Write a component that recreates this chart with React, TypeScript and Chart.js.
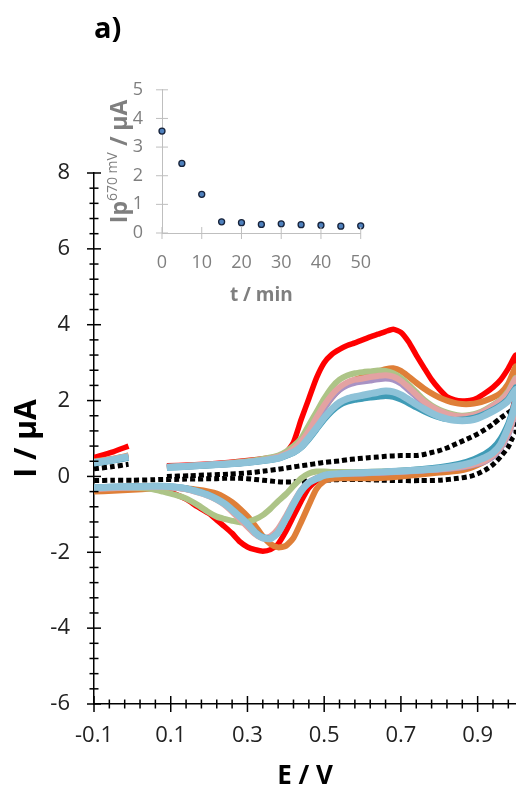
import React, { useEffect, useRef } from "react";
import { Chart, registerables } from "chart.js";

Chart.register(...registerables);

const FONT = '"Open Sans", "DejaVu Sans", sans-serif';

// ---- Potential grids (V) ----
const E_SHORT = [-0.1, -0.05, -0.01];
const E_FWD = [0.09, 0.15, 0.2, 0.25, 0.3, 0.35, 0.38, 0.4, 0.42, 0.44, 0.46, 0.48, 0.5, 0.52, 0.54, 0.56, 0.58, 0.6, 0.62, 0.64, 0.66, 0.68, 0.7, 0.72, 0.74, 0.76, 0.78, 0.8, 0.82, 0.84, 0.86, 0.88, 0.9, 0.92, 0.94, 0.96, 0.98, 1.0];
const E_REV = [1.0, 0.99, 0.98, 0.96, 0.94, 0.92, 0.9, 0.88, 0.85, 0.8, 0.75, 0.7, 0.65, 0.6, 0.55, 0.52, 0.5, 0.48, 0.46, 0.44, 0.42, 0.4, 0.38, 0.36, 0.34, 0.32, 0.3, 0.28, 0.26, 0.24, 0.22, 0.2, 0.17, 0.14, 0.11, 0.08, 0.05, 0.0, -0.05, -0.1];

// ---- Currents (µA) ----
const RED_SHORT = [0.5, 0.65, 0.8];
const RED_FWD = [0.28, 0.3, 0.33, 0.37, 0.42, 0.48, 0.52, 0.62, 0.9, 1.5, 2.05, 2.6, 3.0, 3.22, 3.35, 3.45, 3.52, 3.6, 3.68, 3.75, 3.82, 3.88, 3.8, 3.55, 3.2, 2.87, 2.55, 2.3, 2.1, 2.02, 1.99, 2.0, 2.07, 2.2, 2.35, 2.55, 2.85, 3.2];
const RED_REV = [2.3, 1.7, 1.35, 0.9, 0.65, 0.5, 0.4, 0.32, 0.25, 0.18, 0.15, 0.1, 0.08, 0.06, 0.03, 0.0, -0.03, -0.12, -0.3, -0.65, -1.05, -1.45, -1.78, -1.93, -1.97, -1.93, -1.86, -1.72, -1.5, -1.32, -1.15, -0.98, -0.8, -0.6, -0.46, -0.36, -0.3, -0.3, -0.33, -0.35];

const BLACK_SHORT = [0.2, 0.26, 0.32];
const BLACK_FWD = [0.0, 0.02, 0.04, 0.06, 0.09, 0.15, 0.19, 0.22, 0.25, 0.28, 0.31, 0.34, 0.37, 0.39, 0.41, 0.44, 0.46, 0.48, 0.5, 0.51, 0.53, 0.54, 0.55, 0.55, 0.55, 0.58, 0.63, 0.68, 0.75, 0.84, 0.93, 1.02, 1.12, 1.24, 1.38, 1.54, 1.68, 1.8];
const BLACK_REV = [1.15, 1.0, 0.78, 0.52, 0.31, 0.17, 0.07, 0.0, -0.05, -0.1, -0.11, -0.11, -0.1, -0.08, -0.08, -0.09, -0.1, -0.11, -0.12, -0.13, -0.14, -0.15, -0.14, -0.12, -0.1, -0.08, -0.06, -0.05, -0.05, -0.05, -0.06, -0.06, -0.07, -0.07, -0.08, -0.08, -0.09, -0.1, -0.1, -0.11];

const ORANGE_SHORT = [0.4, 0.47, 0.55];
const ORANGE_FWD = [0.25, 0.27, 0.3, 0.33, 0.37, 0.43, 0.49, 0.56, 0.68, 0.86, 1.15, 1.48, 1.8, 2.08, 2.3, 2.45, 2.55, 2.62, 2.7, 2.77, 2.83, 2.85, 2.78, 2.63, 2.47, 2.32, 2.19, 2.08, 2.0, 1.94, 1.91, 1.91, 1.94, 2.0, 2.08, 2.2, 2.45, 2.9];
const ORANGE_REV = [2.0, 1.6, 1.3, 0.85, 0.55, 0.4, 0.3, 0.22, 0.15, 0.1, 0.05, 0.0, -0.04, -0.05, -0.05, -0.06, -0.12, -0.33, -0.75, -1.2, -1.62, -1.83, -1.87, -1.78, -1.58, -1.3, -1.05, -0.85, -0.68, -0.55, -0.45, -0.4, -0.35, -0.32, -0.3, -0.3, -0.32, -0.35, -0.38, -0.4];

const GREEN_SHORT = [0.37, 0.45, 0.52];
const GREEN_FWD = [0.25, 0.28, 0.31, 0.35, 0.4, 0.48, 0.55, 0.65, 0.8, 1.0, 1.35, 1.7, 2.05, 2.35, 2.55, 2.66, 2.72, 2.75, 2.77, 2.79, 2.78, 2.72, 2.6, 2.42, 2.22, 2.02, 1.87, 1.76, 1.68, 1.63, 1.6, 1.62, 1.67, 1.76, 1.88, 2.02, 2.25, 2.6];
const GREEN_REV = [1.9, 1.45, 1.15, 0.8, 0.55, 0.42, 0.35, 0.3, 0.26, 0.2, 0.18, 0.15, 0.13, 0.12, 0.12, 0.12, 0.13, 0.13, 0.08, -0.05, -0.25, -0.47, -0.65, -0.85, -1.02, -1.13, -1.2, -1.21, -1.17, -1.12, -1.06, -0.95, -0.75, -0.58, -0.48, -0.4, -0.33, -0.3, -0.3, -0.3];

const PURPLE_SHORT = [0.35, 0.43, 0.5];
const PURPLE_FWD = [0.24, 0.27, 0.3, 0.33, 0.37, 0.44, 0.5, 0.58, 0.7, 0.88, 1.15, 1.48, 1.8, 2.08, 2.28, 2.4, 2.47, 2.5, 2.53, 2.56, 2.58, 2.55, 2.45, 2.28, 2.1, 1.93, 1.8, 1.7, 1.62, 1.57, 1.55, 1.57, 1.62, 1.72, 1.84, 1.98, 2.2, 2.55];
const PURPLE_REV = [1.85, 1.4, 1.1, 0.75, 0.52, 0.4, 0.33, 0.28, 0.23, 0.18, 0.15, 0.12, 0.1, 0.08, 0.07, 0.06, 0.03, -0.05, -0.18, -0.4, -0.72, -1.1, -1.42, -1.6, -1.62, -1.5, -1.3, -1.1, -0.9, -0.72, -0.6, -0.5, -0.4, -0.33, -0.29, -0.27, -0.27, -0.28, -0.3, -0.32];

const PINK_SHORT = [0.38, 0.46, 0.54];
const PINK_FWD = [0.25, 0.28, 0.31, 0.34, 0.38, 0.45, 0.52, 0.6, 0.73, 0.92, 1.2, 1.55, 1.88, 2.15, 2.35, 2.48, 2.55, 2.58, 2.62, 2.65, 2.67, 2.63, 2.52, 2.35, 2.16, 1.98, 1.84, 1.73, 1.65, 1.6, 1.58, 1.6, 1.65, 1.74, 1.86, 2.0, 2.22, 2.58];
const PINK_REV = [1.9, 1.45, 1.15, 0.78, 0.55, 0.42, 0.35, 0.29, 0.24, 0.19, 0.16, 0.13, 0.11, 0.09, 0.08, 0.06, 0.03, -0.04, -0.15, -0.36, -0.68, -1.05, -1.38, -1.58, -1.63, -1.52, -1.33, -1.13, -0.93, -0.75, -0.62, -0.52, -0.42, -0.34, -0.3, -0.28, -0.28, -0.29, -0.31, -0.33];

const TEAL_SHORT = [0.34, 0.42, 0.49];
const TEAL_FWD = [0.23, 0.26, 0.29, 0.32, 0.36, 0.42, 0.47, 0.54, 0.62, 0.76, 0.98, 1.24, 1.5, 1.72, 1.88, 1.97, 2.02, 2.05, 2.08, 2.1, 2.12, 2.1, 2.03, 1.93, 1.82, 1.72, 1.63, 1.56, 1.51, 1.49, 1.5, 1.53, 1.58, 1.66, 1.76, 1.88, 2.05, 2.35];
const TEAL_REV = [2.1, 1.7, 1.4, 1.0, 0.75, 0.6, 0.5, 0.42, 0.33, 0.24, 0.19, 0.15, 0.12, 0.1, 0.08, 0.06, 0.03, -0.06, -0.17, -0.4, -0.75, -1.13, -1.48, -1.63, -1.6, -1.46, -1.24, -1.05, -0.87, -0.71, -0.59, -0.49, -0.39, -0.31, -0.27, -0.25, -0.25, -0.26, -0.27, -0.29];

const BLUE_SHORT = [0.36, 0.44, 0.52];
const BLUE_FWD = [0.24, 0.27, 0.3, 0.33, 0.37, 0.43, 0.48, 0.56, 0.64, 0.78, 1.02, 1.28, 1.55, 1.78, 1.95, 2.05, 2.1, 2.14, 2.18, 2.22, 2.25, 2.23, 2.15, 2.03, 1.9, 1.78, 1.67, 1.58, 1.52, 1.48, 1.47, 1.48, 1.53, 1.62, 1.72, 1.84, 2.0, 2.3];
const BLUE_REV = [2.0, 1.6, 1.3, 0.85, 0.62, 0.5, 0.42, 0.35, 0.28, 0.21, 0.17, 0.14, 0.12, 0.1, 0.08, 0.06, 0.03, -0.06, -0.16, -0.38, -0.73, -1.12, -1.48, -1.64, -1.62, -1.48, -1.25, -1.06, -0.88, -0.72, -0.6, -0.5, -0.4, -0.32, -0.28, -0.26, -0.26, -0.27, -0.28, -0.3];

// ---- Inset: peak current vs time ----
const INSET_T = [0, 5, 10, 15, 20, 25, 30, 35, 40, 45, 50];
const INSET_IP = [3.56, 2.43, 1.35, 0.39, 0.36, 0.3, 0.32, 0.29, 0.27, 0.24, 0.25];

// ---- Tick labels ----
const X_TICKS = [-0.1, 0.1, 0.3, 0.5, 0.7, 0.9];
const Y_TICKS = [-6, -4, -2, 0, 2, 4, 6, 8];
const INSET_X_TICKS = [0, 10, 20, 30, 40, 50];
const INSET_Y_TICKS = [0, 1, 2, 3, 4, 5];

function curve(shortI: number[], fwdI: number[], revI: number[]) {
  const pts: { x: number; y: number | null }[] = [];
  fwdI.forEach((y, i) => pts.push({ x: E_FWD[i], y }));
  revI.forEach((y, i) => pts.push({ x: E_REV[i], y }));
  pts.push({ x: -0.1, y: null });
  shortI.forEach((y, i) => pts.push({ x: E_SHORT[i], y }));
  return pts;
}

type TickAxis = { id: string; start: number; end: number; step: number; majors: number[]; majorLen: number; minorLen: number };

function crossTicks(id: string, axes: TickAxis[], color: string, width: number) {
  return {
    id,
    afterDraw(chart: any) {
      const ctx = chart.ctx;
      const area = chart.chartArea;
      ctx.save();
      ctx.strokeStyle = color;
      ctx.lineWidth = width;
      axes.forEach((a) => {
        const scale = chart.scales[a.id];
        const n = Math.floor((a.end - a.start) / a.step + 1e-6);
        for (let i = 0; i <= n; i++) {
          const v = a.start + i * a.step;
          const major = a.majors.some((m) => Math.abs(m - v) < 1e-6);
          const len = major ? a.majorLen : a.minorLen;
          const p = scale.getPixelForValue(v);
          ctx.beginPath();
          if (scale.isHorizontal()) {
            ctx.moveTo(p, area.bottom - len);
            ctx.lineTo(p, area.bottom + len);
          } else {
            ctx.moveTo(area.left - len, p);
            ctx.lineTo(area.left + len, p);
          }
          ctx.stroke();
        }
      });
      ctx.restore();
    },
  };
}

const insetYTitle = {
  id: "insetYTitle",
  afterDraw(chart: any) {
    const { ctx, chartArea } = chart;
    const cy = (chartArea.top + chartArea.bottom) / 2;
    ctx.save();
    ctx.translate(37, cy);
    ctx.rotate(-Math.PI / 2);
    ctx.fillStyle = "#7f7f7f";
    ctx.textBaseline = "alphabetic";
    ctx.textAlign = "left";
    const parts = [
      { text: "Ip", font: `bold 23px ${FONT}`, rise: 0, w: 0 },
      { text: "670 mV", font: `14px ${FONT}`, rise: 10, w: 0 },
      { text: " / µA", font: `bold 23px ${FONT}`, rise: 0, w: 0 },
    ];
    let total = 0;
    parts.forEach((p) => {
      ctx.font = p.font;
      p.w = ctx.measureText(p.text).width;
      total += p.w;
    });
    let x = -total / 2;
    parts.forEach((p) => {
      ctx.font = p.font;
      ctx.fillText(p.text, x, -p.rise);
      x += p.w;
    });
    ctx.restore();
  },
};

export default function App() {
  const mainRef = useRef<HTMLCanvasElement>(null);
  const insetRef = useRef<HTMLCanvasElement>(null);

  useEffect(() => {
    const line = (label: string, color: string, pts: any[], width = 6, dash: number[] = []) => ({
      label,
      data: pts,
      borderColor: color,
      backgroundColor: color,
      borderWidth: width,
      borderDash: dash,
      pointRadius: 0,
      tension: 0.2,
      spanGaps: false,
      fill: false,
    });

    const main = new Chart(mainRef.current as HTMLCanvasElement, {
      type: "line",
      data: {
        datasets: [
          line("light blue", "#8ec2d8", curve(BLUE_SHORT, BLUE_FWD, BLUE_REV), 7),
          line("teal", "#3f9bb6", curve(TEAL_SHORT, TEAL_FWD, TEAL_REV)),
          line("pink", "#e3a2a2", curve(PINK_SHORT, PINK_FWD, PINK_REV)),
          line("purple", "#a893c4", curve(PURPLE_SHORT, PURPLE_FWD, PURPLE_REV)),
          line("green", "#adc487", curve(GREEN_SHORT, GREEN_FWD, GREEN_REV)),
          line("orange", "#df7f38", curve(ORANGE_SHORT, ORANGE_FWD, ORANGE_REV)),
          line("red", "#ff0000", curve(RED_SHORT, RED_FWD, RED_REV), 5.5),
          line("blank", "#000000", curve(BLACK_SHORT, BLACK_FWD, BLACK_REV), 5, [5, 3]),
        ],
      },
      options: {
        responsive: false,
        animation: false,
        devicePixelRatio: 1,
        layout: { padding: { top: 173, left: 0, right: 0, bottom: 0 }, autoPadding: false },
        plugins: { legend: { display: false }, tooltip: { enabled: false } },
        scales: {
          x: {
            type: "linear",
            min: -0.1,
            max: 1.0,
            afterBuildTicks: (s: any) => {
              s.ticks = X_TICKS.map((value) => ({ value }));
            },
            afterFit: (s: any) => {
              s.height = 88;
            },
            grid: { display: true, drawOnChartArea: false, drawTicks: false },
            border: { display: true, color: "#000", width: 1.5 },
            ticks: {
              autoSkip: false,
              maxRotation: 0,
              padding: 19,
              color: "#222",
              font: { family: FONT, size: 22 },
              callback: (v: any) => Number(v).toFixed(1),
            },
            title: {
              display: true,
              text: "E / V",
              color: "#000",
              font: { family: FONT, size: 26, weight: "bold" },
              padding: { top: 0, bottom: 0 },
            },
          },
          y: {
            type: "linear",
            min: -6,
            max: 8,
            afterBuildTicks: (s: any) => {
              s.ticks = Y_TICKS.map((value) => ({ value }));
            },
            afterFit: (s: any) => {
              s.width = 94;
            },
            grid: { display: true, drawOnChartArea: false, drawTicks: false },
            border: { display: true, color: "#000", width: 1.5 },
            ticks: {
              autoSkip: false,
              padding: 24,
              color: "#222",
              font: { family: FONT, size: 22 },
              callback: (v: any) => String(v),
            },
            title: {
              display: true,
              text: "I / µA",
              color: "#000",
              font: { family: FONT, size: 30, weight: "bold" },
              padding: { top: 9, bottom: 0 },
            },
          },
        },
      },
      plugins: [
        crossTicks(
          "mainTicks",
          [
            { id: "x", start: -0.1, end: 1.0, step: 0.04, majors: X_TICKS, majorLen: 8, minorLen: 4.5 },
            { id: "y", start: -6, end: 8, step: 0.4, majors: Y_TICKS, majorLen: 7, minorLen: 4.5 },
          ],
          "#000",
          1.5
        ),
      ],
    } as any);

    const inset = new Chart(insetRef.current as HTMLCanvasElement, {
      type: "scatter",
      data: {
        datasets: [
          {
            label: "Ip",
            data: INSET_T.map((t, i) => ({ x: t, y: INSET_IP[i] })),
            pointRadius: 3,
            pointBackgroundColor: "#4f81bd",
            pointBorderColor: "#16223a",
            pointBorderWidth: 1.3,
            clip: false,
          },
        ],
      },
      options: {
        responsive: false,
        animation: false,
        devicePixelRatio: 1,
        layout: { padding: { top: 25, left: 0, right: 23, bottom: 0 }, autoPadding: false },
        plugins: { legend: { display: false }, tooltip: { enabled: false } },
        scales: {
          x: {
            type: "linear",
            min: 0,
            max: 50,
            afterBuildTicks: (s: any) => {
              s.ticks = INSET_X_TICKS.map((value) => ({ value }));
            },
            afterFit: (s: any) => {
              s.height = 77;
            },
            grid: { display: true, drawOnChartArea: false, drawTicks: false },
            border: { display: true, color: "#bfbfbf", width: 1 },
            ticks: {
              autoSkip: false,
              maxRotation: 0,
              padding: 19,
              color: "#7f7f7f",
              font: { family: FONT, size: 18 },
            },
            title: {
              display: true,
              text: "t / min",
              color: "#7f7f7f",
              font: { family: FONT, size: 19, weight: "bold" },
              padding: { top: 0, bottom: 3 },
            },
          },
          y: {
            type: "linear",
            min: 0,
            max: 5,
            afterBuildTicks: (s: any) => {
              s.ticks = INSET_Y_TICKS.map((value) => ({ value }));
            },
            afterFit: (s: any) => {
              s.width = 72;
            },
            grid: { display: true, drawOnChartArea: false, drawTicks: false },
            border: { display: true, color: "#bfbfbf", width: 1 },
            ticks: {
              autoSkip: false,
              padding: 19,
              color: "#7f7f7f",
              font: { family: FONT, size: 18 },
            },
            title: { display: false },
          },
        },
      },
      plugins: [
        crossTicks(
          "insetTicks",
          [
            { id: "x", start: 0, end: 50, step: 10, majors: INSET_X_TICKS, majorLen: 6, minorLen: 6 },
            { id: "y", start: 0, end: 5, step: 1, majors: INSET_Y_TICKS, majorLen: 6, minorLen: 6 },
          ],
          "#bfbfbf",
          1
        ),
        insetYTitle,
      ],
    } as any);

    return () => {
      main.destroy();
      inset.destroy();
    };
  }, []);

  return (
    <div style={{ position: "absolute", left: 0, top: 0, width: 516, height: 792, background: "#fff", overflow: "hidden" }}>
      <canvas ref={mainRef} width={516} height={792} style={{ position: "absolute", left: 0, top: 0 }} />
      <canvas ref={insetRef} width={300} height={250} style={{ position: "absolute", left: 90, top: 60 }} />
      <div
        style={{
          position: "absolute",
          left: 94,
          top: 12,
          fontFamily: FONT,
          fontWeight: "bold",
          fontSize: 29,
          lineHeight: "29px",
          color: "#000",
        }}
      >
        a)
      </div>
    </div>
  );
}
